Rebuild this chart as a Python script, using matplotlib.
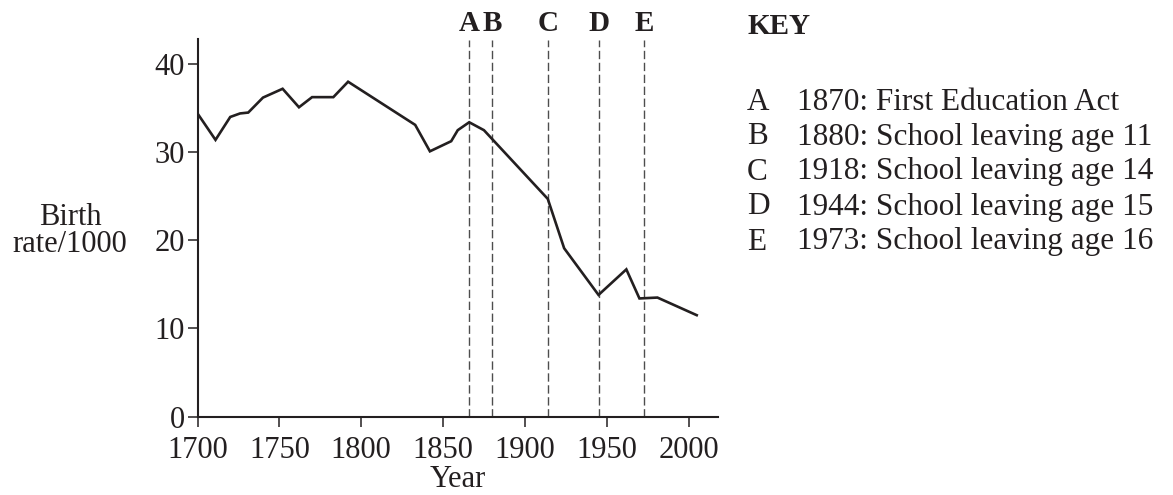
import matplotlib
matplotlib.use("Agg")
import matplotlib.pyplot as plt

plt.rcParams['font.family'] = ['Liberation Serif', 'DejaVu Serif']

# birth rate per 1000
years = [1700, 1711, 1720, 1726, 1731, 1740, 1752, 1762, 1770, 1783, 1792,
         1833, 1842, 1855, 1859, 1866, 1875, 1914, 1924, 1945, 1962, 1970,
         1981, 2005]
rates = [34.4, 31.4, 34.0, 34.4, 34.5, 36.2, 37.2, 35.1, 36.25, 36.25, 38.0,
         33.1, 30.1, 31.25, 32.5, 33.4, 32.5, 24.7, 19.1, 13.8, 16.7, 13.4,
         13.5, 11.5]

# event markers as drawn, and the key text
event_letters = ['A', 'B', 'C', 'D', 'E']
event_x = [1866, 1880, 1914, 1945, 1973]
key_text = ['1870: First Education Act',
            '1880: School leaving age 11',
            '1918: School leaving age 14',
            '1944: School leaving age 15',
            '1973: School leaving age 16']

xticks = [1700, 1750, 1800, 1850, 1900, 1950, 2000]
yticks = [0, 10, 20, 30, 40]

W, H = 1173, 495
fig = plt.figure(figsize=(W / 100, H / 100), dpi=100)
ax = fig.add_axes([197.5 / W, 1 - 416.5 / H, (718 - 197.5) / W, (416.5 - 39) / H])

ink = '#231f20'
ax.plot(years, rates, color=ink, lw=1.9, solid_joinstyle='miter', zorder=3)

for x in event_x:
    ax.vlines(x, 0, 42.75, colors='#4d4d4d', lw=1.0, linestyles=(0, (6, 2.6)), zorder=2)
for x, l in zip(event_x, event_letters):
    ax.text(x, 44.6, l, ha='center', va='center', fontsize=21, fontweight='bold',
            color=ink, clip_on=False)

ax.set_xlim(1700, 2018)
ax.set_ylim(0, 42.85)
ax.set_xticks(xticks)
ax.set_yticks(yticks)
ax.tick_params(direction='out', length=7, width=1.1, colors=ink, labelsize=22)
ax.tick_params(axis='x', pad=7)
ax.tick_params(axis='y', pad=2)

for s in ['top', 'right']:
    ax.spines[s].set_visible(False)
for s in ['left', 'bottom']:
    ax.spines[s].set_linewidth(1.5)
    ax.spines[s].set_color(ink)

ax.set_xlabel('Year', fontsize=22, color=ink, labelpad=0)
fig.text(70 / W, 1 - 231 / H, 'Birth\nrate/1000', ha='center', va='center',
         fontsize=22, color=ink, linespacing=0.95)

fig.text(747 / W, 1 - 27 / H, 'KEY', ha='left', va='center', fontsize=21,
         fontweight='bold', color=ink)
for i, (l, t) in enumerate(zip(event_letters, key_text)):
    y = 1 - (102 + 35 * i) / H
    fig.text(747 / W, y, l, ha='left', va='center', fontsize=22.5, color=ink)
    fig.text(797 / W, y, t, ha='left', va='center', fontsize=22.5, color=ink)

fig.savefig('out.png', dpi=100)
